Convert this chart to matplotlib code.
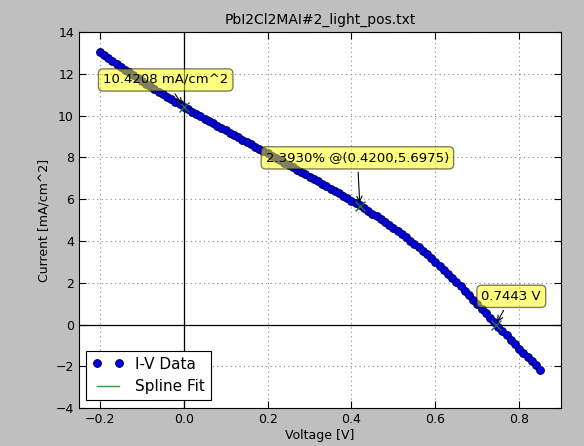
import matplotlib
matplotlib.use("Agg")
import matplotlib.pyplot as plt

# I-V Messung (Schritt 0.01 V)
voltage = [round(-0.20 + 0.01 * i, 2) for i in range(106)]
current = [
    13.05, 12.91, 12.76, 12.62, 12.48, 12.34, 12.20, 12.07, 11.93, 11.80,
    11.66, 11.53, 11.40, 11.27, 11.15, 11.02, 10.90, 10.78, 10.66, 10.54,
    10.42, 10.31, 10.19, 10.08, 9.96, 9.85, 9.74, 9.63, 9.52, 9.40,
    9.29, 9.18, 9.07, 8.96, 8.85, 8.74, 8.63, 8.52, 8.41, 8.30,
    8.19, 8.08, 7.97, 7.86, 7.75, 7.64, 7.53, 7.42, 7.31, 7.19,
    7.08, 6.97, 6.85, 6.74, 6.62, 6.51, 6.39, 6.28, 6.16, 6.05,
    5.93, 5.82, 5.70, 5.57, 5.44, 5.31, 5.18, 5.04, 4.91, 4.77,
    4.63, 4.48, 4.33, 4.18, 4.02, 3.86, 3.70, 3.53, 3.36, 3.18,
    3.00, 2.82, 2.63, 2.44, 2.24, 2.04, 1.83, 1.62, 1.40, 1.19,
    0.97, 0.76, 0.54, 0.33, 0.11, -0.10, -0.31, -0.52, -0.73, -0.94,
    -1.15, -1.36, -1.56, -1.76, -1.96, -2.16,
]

# Kennwerte: Jsc, Punkt maximaler Leistung, Voc
jsc = 10.4208
mpp_v, mpp_i, pce = 0.4200, 5.6975, 2.3930
voc = 0.7443

xticks = [-0.2, 0.0, 0.2, 0.4, 0.6, 0.8]
yticks = list(range(-4, 15, 2))

fig = plt.figure(figsize=(5.84, 4.46), dpi=100, facecolor="#bfbfbf")
ax = fig.add_axes([0.135, 0.085, 0.826, 0.843])

ax.plot(voltage, current, "o", color="#0000e0", mec="#000060", mew=0.7, ms=5.6,
        label="I-V Data", zorder=3)
ax.plot(voltage, current, "-", color="#3a9a3a", lw=1, label="Spline Fit", zorder=2)
ax.axhline(0, color="k", lw=0.9, zorder=1)
ax.axvline(0, color="k", lw=0.9, zorder=1)

ax.plot([0, mpp_v, voc], [jsc, mpp_i, 0], "x", color="#2a6e2a", ms=7, mew=1,
        zorder=4)

box = dict(boxstyle="round,pad=0.35", fc="yellow", ec="k", alpha=0.5)
arrow = dict(arrowstyle="->", color="k", lw=0.8)
kw = dict(ha="center", va="center", fontsize=9.5, bbox=box, arrowprops=arrow,
          zorder=5)
ax.annotate(f"{jsc:.4f} mA/cm^2", xy=(0, jsc), xytext=(-0.043, 11.71), **kw)
ax.annotate(f"{pce:.4f}% @({mpp_v:.4f},{mpp_i:.4f})", xy=(mpp_v, mpp_i),
            xytext=(0.414, 7.98), **kw)
ax.annotate(f"{voc:.4f} V", xy=(voc, 0), xytext=(0.781, 1.35), **kw)

ax.set_xlim(-0.25, 0.9)
ax.set_ylim(-4, 14)
ax.set_xticks(xticks)
ax.set_yticks(yticks)
ax.tick_params(direction="in", top=True, right=True, labelsize=9, length=5)
ax.grid(True, color="#888888", ls=(0, (1, 3)), lw=0.8)
ax.set_axisbelow(True)

ax.set_title("PbI2Cl2MAI#2_light_pos.txt", fontsize=10)
ax.set_xlabel("Voltage [V]", fontsize=9, labelpad=2)
ax.set_ylabel("Current [mA/cm^2]", fontsize=9)

leg = ax.legend(loc="lower left", numpoints=2, fontsize=11, fancybox=False,
                framealpha=1, edgecolor="k", borderaxespad=0.5)
leg.get_frame().set_linewidth(0.8)

fig.savefig("out.png", dpi=100, facecolor=fig.get_facecolor())
